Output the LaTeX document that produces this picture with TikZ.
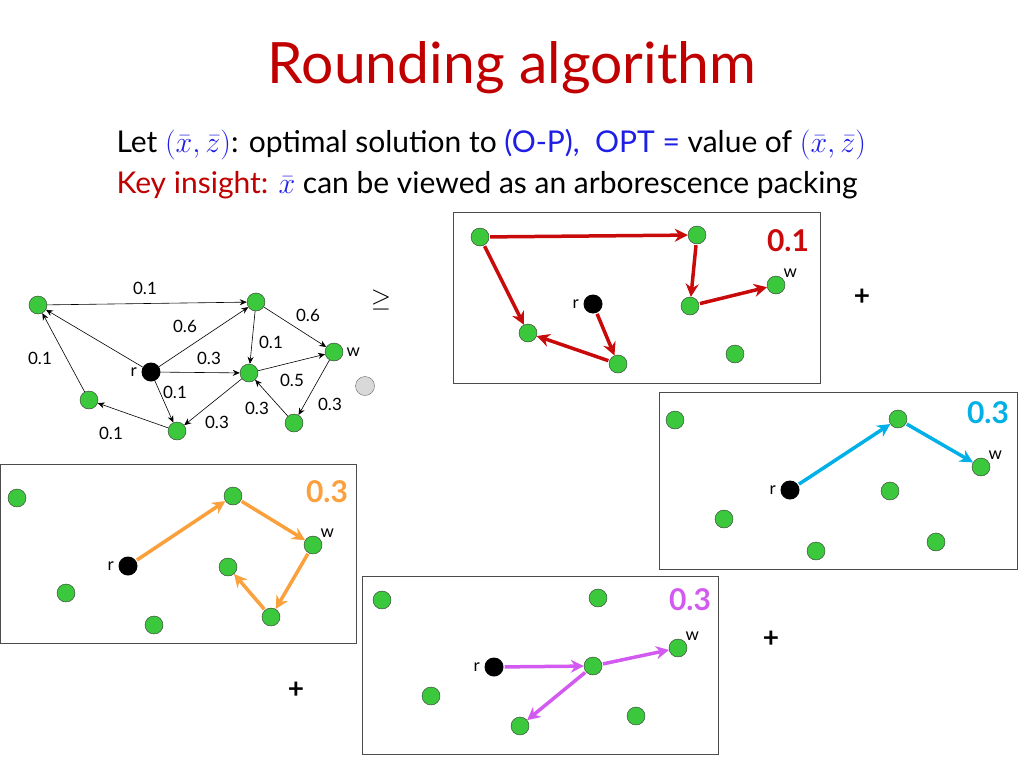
\RequirePackage{fix-cm}
\documentclass[tikz,border=0pt]{standalone}
\usepackage{amsmath}
\usepackage{amssymb}
\usepackage{fontspec}
\setmainfont{Lato}
\usetikzlibrary{arrows.meta}
\tikzset{>={Stealth[width=6pt,length=7pt]}}
\definecolor{titlered}{RGB}{192,0,0}
\definecolor{optblue}{RGB}{30,30,230}
\definecolor{dgreen}{RGB}{60,200,60}
\definecolor{pred}{RGB}{200,10,10}
\definecolor{pblue}{RGB}{0,176,230}
\definecolor{porange}{RGB}{250,160,60}
\definecolor{pviolet}{RGB}{210,90,240}

\begin{document}
\begin{tikzpicture}[x=1pt, y=-1pt, vnode/.style={circle, draw=black!80, fill=dgreen, minimum size=18pt, inner sep=0pt}, rootnode/.style={circle, fill=black, minimum size=19pt, inner sep=0pt}, greynode/.style={circle, draw=black!60, fill=black!15, minimum size=19pt, inner sep=0pt}, edgelab/.style={font=\fontsize{17}{17}\selectfont}, boxframe/.style={draw=black!70, thick}, path/.style={-{Stealth[width=13pt,length=13pt]}, line width=3.5pt, shorten <=1pt}, plabel/.style={font=\fontsize{30}{30}\selectfont\bfseries}]
    \useasboundingbox (0,0) rectangle (1024,768);

    %Title and text
    \node[text=titlered, font=\fontsize{57}{57}\selectfont](title) at (512,68){Rounding algorithm};
    \node[anchor=west, font=\fontsize{30}{30}\selectfont](line1) at (113,145){Let \textcolor{optblue}{$(\bar{x},\bar{z})$}: optimal solution to \textcolor{optblue}{(O-P),}\ \ \textcolor{optblue}{OPT =} value of \textcolor{optblue}{$(\bar{x},\bar{z})$}};
    \node[anchor=west, font=\fontsize{30}{30}\selectfont](line2) at (113,185){\textcolor{titlered}{Key insight:} \textcolor{optblue}{$\bar{x}$} can be viewed as an arborescence packing};

    %Graph
    \node[vnode](a) at (38,305){};
    \node[vnode](b) at (256,302){};
    \node[rootnode](r) at (151,372){};
    \node[vnode](c) at (249,373){};
    \node[vnode](w) at (334,352){};
    \node[vnode](d) at (89,400){};
    \node[vnode](e) at (177,431){};
    \node[vnode](f) at (294,423){};
    \node[greynode](g) at (365,386){};
    \node[edgelab, left=1pt] at (r.west){r};
    \node[edgelab, anchor=west] at (w.east){w};

    \draw[->, semithick] (a) -- (b);
    \draw[->, semithick] (r) -- (a);
    \draw[->, semithick] (r) -- (b);
    \draw[->, semithick] (b) -- (c);
    \draw[->, semithick] (b) -- (w);
    \draw[->, semithick] (r) -- (c);
    \draw[->, semithick] (c) -- (w);
    \draw[->, semithick] (w) -- (f);
    \draw[->, semithick] (f) -- (c);
    \draw[->, semithick] (c) -- (e);
    \draw[->, semithick] (r) -- (e);
    \draw[->, semithick] (e) -- (d);
    \draw[->, semithick] (d) -- (a);

    \node[edgelab] at (145,288){0.1};
    \node[edgelab] at (185,326){0.6};
    \node[edgelab] at (308,315){0.6};
    \node[edgelab] at (271,342){0.1};
    \node[edgelab] at (209,358){0.3};
    \node[edgelab] at (292,380){0.5};
    \node[edgelab] at (175,392){0.1};
    \node[edgelab] at (257,408){0.3};
    \node[edgelab] at (217,422){0.3};
    \node[edgelab] at (330,404){0.3};
    \node[edgelab] at (40,358){0.1};
    \node[edgelab] at (111,433){0.1};
    \node[font=\fontsize{26}{26}\selectfont](geq) at (381,300){$\geq$};

    %Box 1
    \draw[boxframe] (453,212) rectangle (820,383);
    \node[vnode](p1) at (480,237){};
    \node[vnode](p2) at (697,235){};
    \node[vnode](p3) at (690,306){};
    \node[vnode](pw) at (776,285){};
    \node[vnode](p4) at (528,333){};
    \node[rootnode](pr) at (593,304){};
    \node[vnode](p5) at (618,364){};
    \node[vnode](p6) at (735,354){};
    \node[edgelab, left=1pt] at (pr.west){r};
    \node[edgelab, anchor=south west, inner sep=1pt] at (pw.north east){w};
    \node[plabel, text=pred] at (788,241){0.1};
    \draw[path, pred] (p1) -- (p2);
    \draw[path, pred] (p2) -- (p3);
    \draw[path, pred] (p3) -- (pw);
    \draw[path, pred] (p1) -- (p4);
    \draw[path, pred] (pr) -- (p5);
    \draw[path, pred] (p5) -- (p4);

    %Box 2
    \draw[boxframe] (659,392) rectangle (1017,569);
    \node[vnode](q1) at (675,420){};
    \node[vnode](q2) at (898,419){};
    \node[rootnode](qr) at (790,490){};
    \node[vnode](qw) at (981,467){};
    \node[vnode](q3) at (890,491){};
    \node[vnode](q4) at (724,519){};
    \node[vnode](q5) at (816,551){};
    \node[vnode](q6) at (936,542){};
    \node[edgelab, left=1pt] at (qr.west){r};
    \node[edgelab, anchor=south west, inner sep=1pt] at (qw.north east){w};
    \node[plabel, text=pblue] at (988,413){0.3};
    \draw[path, pblue] (qr) -- (q2);
    \draw[path, pblue] (q2) -- (qw);

    %Box 3
    \draw[boxframe] (0,464) rectangle (356,643);
    \node[vnode](s1) at (17,498){};
    \node[vnode](s2) at (233,496){};
    \node[rootnode](sr) at (128,566){};
    \node[vnode](sw) at (313,545){};
    \node[vnode](s3) at (228,567){};
    \node[vnode](s4) at (66,593){};
    \node[vnode](s5) at (154,625){};
    \node[vnode](s6) at (271,617){};
    \node[edgelab, left=1pt] at (sr.west){r};
    \node[edgelab, anchor=south west, inner sep=1pt] at (sw.north east){w};
    \node[plabel, text=porange] at (327,492){0.3};
    \draw[path, porange] (sr) -- (s2);
    \draw[path, porange] (s2) -- (sw);
    \draw[path, porange] (sw) -- (s6);
    \draw[path, porange] (s6) -- (s3);

    %Box 4
    \draw[boxframe] (362,576) rectangle (718,754);
    \node[vnode](t1) at (382,600){};
    \node[vnode](t2) at (598,598){};
    \node[rootnode](tr) at (494,667){};
    \node[vnode](t3) at (593,666){};
    \node[vnode](tw) at (678,648){};
    \node[vnode](t4) at (431,696){};
    \node[vnode](t5) at (520,726){};
    \node[vnode](t6) at (636,716){};
    \node[edgelab, left=1pt] at (tr.west){r};
    \node[edgelab, anchor=south west, inner sep=1pt] at (tw.north east){w};
    \node[plabel, text=pviolet] at (690,600){0.3};
    \draw[path, pviolet] (tr) -- (t3);
    \draw[path, pviolet] (t3) -- (tw);
    \draw[path, pviolet] (t3) -- (t5);

    %Plus signs
    \node[font=\fontsize{28}{28}\selectfont\bfseries](plus1) at (862,297){+};
    \node[font=\fontsize{28}{28}\selectfont\bfseries](plus2) at (771,639){+};
    \node[font=\fontsize{28}{28}\selectfont\bfseries](plus3) at (296,690){+};
\end{tikzpicture}
\end{document}
